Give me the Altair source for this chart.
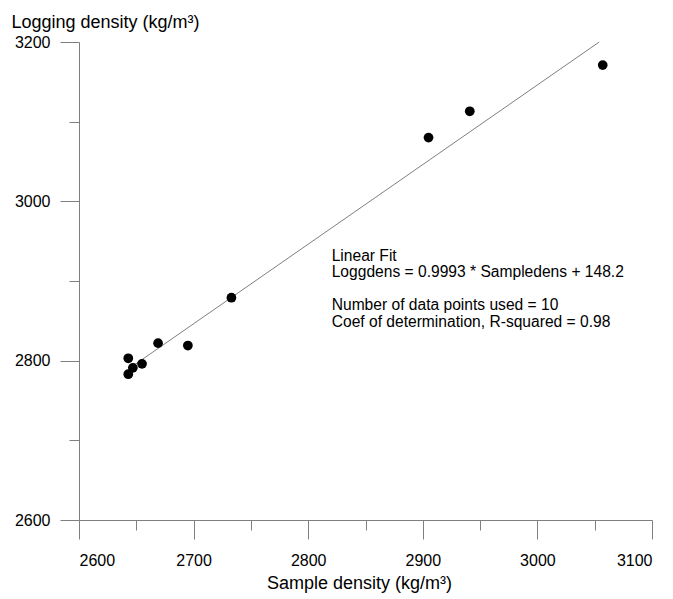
import altair as alt
import pandas as pd

# data
sample_density = [2643, 2643, 2647, 2655, 2669, 2695, 2733, 2905, 2941, 3057]
logging_density = [2803, 2783, 2791, 2796, 2822, 2819, 2879, 3080, 3113, 3171]

slope = 0.9993
intercept = 148.2
fit_x = [2643, (3200 - intercept) / slope]
fit_y = [slope * v + intercept for v in fit_x]

x_ticks = [2600, 2650, 2700, 2750, 2800, 2850, 2900, 2950, 3000, 3050, 3100]
y_ticks = [2600, 2700, 2800, 2900, 3000, 3100, 3200]

fit_lines = ["Linear Fit", "Loggdens = 0.9993 * Sampledens + 148.2"]
stat_lines = ["Number of data points used = 10", "Coef of determination, R-squared = 0.98"]

pts = pd.DataFrame({"x": sample_density, "y": logging_density})
fit = pd.DataFrame({"x": fit_x, "y": fit_y})

FONT = "Liberation Sans"
GREY = "#7f7f7f"

xscale = alt.Scale(domain=[2600, 3100], nice=False, zero=False)
yscale = alt.Scale(domain=[2600, 3200], nice=False, zero=False)

x_axis = alt.Axis(
    values=x_ticks,
    format="d",
    labelExpr="datum.value % 100 === 0 ? datum.label : ''",
    tickSize={"condition": {"test": "datum.value % 100 === 0", "value": 19}, "value": 10},
    labelPadding=13,
    labelFontSize=16,
    labelFont=FONT,
    labelColor="black",
    domainColor=GREY,
    tickColor=GREY,
    grid=False,
    title="Sample density (kg/m³)",
    titleFont=FONT,
    titleFontSize=18,
    titleFontWeight="normal",
    titleColor="black",
    titleAnchor="start",
    titleAlign="center",
    titleBaseline="alphabetic",
    titleX=280,
    titleY=68,
)

y_axis = alt.Axis(
    values=y_ticks,
    format="d",
    labelExpr="datum.value % 200 === 0 ? datum.label : ''",
    tickSize={"condition": {"test": "datum.value % 200 === 0", "value": 19}, "value": 10},
    labelPadding=10,
    labelFontSize=16,
    labelFont=FONT,
    labelColor="black",
    domainColor=GREY,
    tickColor=GREY,
    grid=False,
    title="Logging density (kg/m³)",
    titleFont=FONT,
    titleFontSize=18,
    titleFontWeight="normal",
    titleColor="black",
    titleAngle=0,
    titleAlign="left",
    titleBaseline="alphabetic",
    titleAnchor="start",
    titleX=-68,
    titleY=-15,
)

line = alt.Chart(fit).mark_line(color=GREY, strokeWidth=1).encode(
    x=alt.X("x:Q", scale=xscale, axis=x_axis),
    y=alt.Y("y:Q", scale=yscale, axis=y_axis),
)

points = alt.Chart(pts).mark_circle(color="black", opacity=1, size=95).encode(
    x=alt.X("x:Q"),
    y=alt.Y("y:Q"),
)


def text_block(lines, y_val):
    return alt.Chart(pts).mark_text(
        align="left", baseline="alphabetic", font=FONT, fontSize=15.6,
        lineHeight=16.8, color="black"
    ).encode(
        x=alt.datum(2820.5),
        y=alt.datum(y_val),
        text=alt.value(lines),
    ).transform_filter("datum.x == 2643 && datum.y == 2803")


text1 = text_block(fit_lines, 2925.7)
text2 = text_block(stat_lines, 2863.3)

chart = alt.layer(line, points, text1, text2).properties(
    width=573,
    height=478,
    autosize="none",
    padding={"left": 79, "top": 42, "right": 21, "bottom": 79},
    background="white",
).configure_view(stroke=None)

chart.save("out.html", embed_options={"renderer": "svg", "actions": False})
